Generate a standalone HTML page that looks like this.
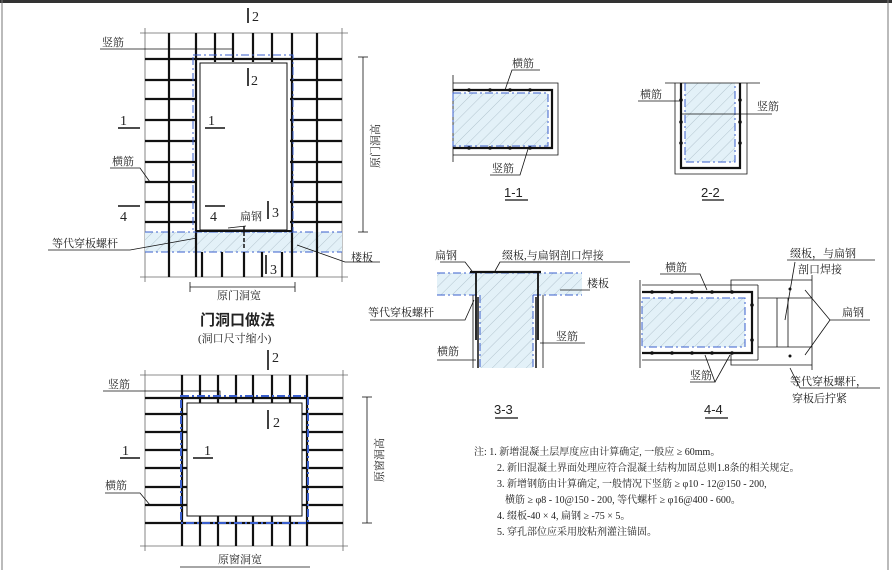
<!DOCTYPE html>
<html><head><meta charset="utf-8"><style>
html,body{margin:0;padding:0;background:#fff}
svg{display:block}
text{font-family:"Liberation Serif","Noto Serif CJK SC","Noto Sans CJK SC",serif;fill:#222}
.s{font-family:"Liberation Sans","Noto Sans CJK SC",sans-serif}
</style></head><body>
<svg width="892" height="570" viewBox="0 0 892 570" xmlns="http://www.w3.org/2000/svg">
<defs>
<pattern id="h" width="8" height="8" patternUnits="userSpaceOnUse" patternTransform="rotate(45)">
<rect width="8" height="8" fill="#e3f1f8"/><line x1="0" y1="0" x2="0" y2="8" stroke="#9fb3bd" stroke-width="0.7"/>
</pattern>
</defs>
<rect x="0" y="0" width="892" height="3" fill="#333"/>
<line x1="2" y1="0" x2="2" y2="570" stroke="#777"/>
<line x1="888" y1="0" x2="888" y2="570" stroke="#777"/>

<!-- DOOR -->
<g stroke="#111" fill="none">
<line x1="140" y1="33" x2="348" y2="33" stroke-width="0.8" stroke="#666"/>
<line x1="140" y1="277" x2="348" y2="277" stroke-width="0.8" stroke="#666"/>
<line x1="145" y1="28" x2="145" y2="282" stroke-width="0.8" stroke="#666"/>
<line x1="342" y1="28" x2="342" y2="282" stroke-width="0.8" stroke="#666"/>
<rect x="145" y="232" width="197" height="20" fill="url(#h)" stroke="none"/>
<line x1="145" y1="232" x2="342" y2="232" stroke="#3a5fcd" stroke-dasharray="8,3,2,3"/>
<line x1="145" y1="252" x2="342" y2="252" stroke="#3a5fcd" stroke-dasharray="8,3,2,3"/>
<g stroke-width="2.2">
<line x1="145" y1="59" x2="342" y2="59"/>
<line x1="145" y1="80" x2="197" y2="80"/><line x1="290" y1="80" x2="342" y2="80"/>
<line x1="145" y1="99" x2="197" y2="99"/><line x1="290" y1="99" x2="342" y2="99"/>
<line x1="145" y1="120" x2="197" y2="120"/><line x1="290" y1="120" x2="342" y2="120"/>
<line x1="145" y1="141" x2="197" y2="141"/><line x1="290" y1="141" x2="342" y2="141"/>
<line x1="145" y1="162" x2="197" y2="162"/><line x1="290" y1="162" x2="342" y2="162"/>
<line x1="145" y1="182" x2="197" y2="182"/><line x1="290" y1="182" x2="342" y2="182"/>
<line x1="145" y1="202" x2="197" y2="202"/><line x1="290" y1="202" x2="342" y2="202"/>
<line x1="145" y1="222" x2="197" y2="222"/><line x1="290" y1="222" x2="342" y2="222"/>
<line x1="169" y1="33" x2="169" y2="277"/><line x1="317" y1="33" x2="317" y2="277"/>
<line x1="196" y1="33" x2="196" y2="277"/><line x1="292" y1="33" x2="292" y2="277"/>
<line x1="215" y1="33" x2="215" y2="62"/><line x1="233" y1="33" x2="233" y2="62"/>
<line x1="253" y1="33" x2="253" y2="62"/><line x1="272" y1="33" x2="272" y2="62"/>
<line x1="202" y1="252" x2="202" y2="277"/><line x1="222" y1="252" x2="222" y2="277"/>
<line x1="244" y1="252" x2="244" y2="277"/><line x1="262" y1="252" x2="262" y2="277"/>
<line x1="282" y1="252" x2="282" y2="277"/>
</g>
<rect x="193" y="55" width="100" height="177" stroke="#3a5fcd" stroke-dasharray="8,3,2,3"/>
<rect x="200" y="63" width="87" height="167" fill="#fff" stroke-width="1"/>
<line x1="196" y1="231" x2="292" y2="231" stroke-width="2"/>
<line x1="244" y1="226" x2="244" y2="250" stroke-width="1.5" stroke-dasharray="4,2"/>
<line x1="363" y1="57" x2="363" y2="232" stroke-width="0.8"/>
<line x1="358" y1="57" x2="368" y2="57" stroke-width="0.8"/><line x1="358" y1="232" x2="368" y2="232" stroke-width="0.8"/>
<line x1="190" y1="287" x2="295" y2="287" stroke-width="0.8"/>
<line x1="190" y1="282" x2="190" y2="292" stroke-width="0.8"/><line x1="295" y1="282" x2="295" y2="292" stroke-width="0.8"/>
<g stroke-width="1.6">
<line x1="248" y1="8" x2="248" y2="23"/><line x1="248" y1="68" x2="248" y2="86"/>
<line x1="118" y1="128" x2="140" y2="128"/><line x1="205" y1="128" x2="225" y2="128"/>
<line x1="118" y1="206" x2="140" y2="206"/><line x1="205" y1="206" x2="225" y2="206"/>
<line x1="268" y1="201" x2="268" y2="219"/><line x1="266" y1="255" x2="266" y2="274"/>
</g>
<g stroke-width="0.8">
<polyline points="100,49 233,49 233,56"/>
<polyline points="110,168 140,168 150,182"/>
<polyline points="48,250 130,250 197,238"/>
<polyline points="297,245 345,262 380,262"/>
<line x1="228" y1="228" x2="246" y2="226"/>
</g>
</g>
<g class="s" font-size="14">
<text x="252" y="21">2</text><text x="251" y="85">2</text>
<text x="120" y="125">1</text><text x="208" y="125">1</text>
<text x="120" y="221">4</text><text x="210" y="221">4</text>
<text x="272" y="217">3</text><text x="270" y="274">3</text>
</g>
<g font-size="11">
<text x="102" y="46">竖筋</text>
<text x="112" y="165">横筋</text>
<text x="52" y="247">等代穿板螺杆</text>
<text x="351" y="261">楼板</text>
<text x="240" y="220">扁钢</text>
<text x="217" y="299">原门洞宽</text>
<text transform="translate(379,168) rotate(-90)">原门洞高</text>
</g>
<text x="200" y="325" font-size="15" font-weight="bold" class="s">门洞口做法</text>
<text x="198" y="342" font-size="11">(洞口尺寸缩小)</text>

<!-- WINDOW -->
<g stroke="#111" fill="none">
<line x1="140" y1="375" x2="348" y2="375" stroke-width="0.8" stroke="#666"/>
<line x1="140" y1="546" x2="348" y2="546" stroke-width="0.8" stroke="#666"/>
<line x1="145" y1="370" x2="145" y2="551" stroke-width="0.8" stroke="#666"/>
<line x1="343" y1="370" x2="343" y2="551" stroke-width="0.8" stroke="#666"/>
<g stroke-width="2.2">
<line x1="145" y1="398" x2="343" y2="398"/><line x1="145" y1="523" x2="343" y2="523"/>
<line x1="145" y1="414" x2="187" y2="414"/><line x1="302" y1="414" x2="343" y2="414"/>
<line x1="145" y1="432" x2="187" y2="432"/><line x1="302" y1="432" x2="343" y2="432"/>
<line x1="145" y1="450" x2="187" y2="450"/><line x1="302" y1="450" x2="343" y2="450"/>
<line x1="145" y1="468" x2="187" y2="468"/><line x1="302" y1="468" x2="343" y2="468"/>
<line x1="145" y1="487" x2="187" y2="487"/><line x1="302" y1="487" x2="343" y2="487"/>
<line x1="145" y1="505" x2="187" y2="505"/><line x1="302" y1="505" x2="343" y2="505"/>
<line x1="182" y1="375" x2="182" y2="546"/><line x1="307" y1="375" x2="307" y2="546"/>
<line x1="200" y1="375" x2="200" y2="403"/><line x1="218" y1="375" x2="218" y2="403"/>
<line x1="236" y1="375" x2="236" y2="403"/><line x1="253" y1="375" x2="253" y2="403"/>
<line x1="272" y1="375" x2="272" y2="403"/><line x1="290" y1="375" x2="290" y2="403"/>
<line x1="200" y1="516" x2="200" y2="546"/><line x1="218" y1="516" x2="218" y2="546"/>
<line x1="236" y1="516" x2="236" y2="546"/><line x1="253" y1="516" x2="253" y2="546"/>
<line x1="272" y1="516" x2="272" y2="546"/><line x1="290" y1="516" x2="290" y2="546"/>
</g>
<rect x="181" y="396" width="127" height="127" stroke="#3a5fcd" stroke-width="2" stroke-dasharray="8,3,2,3"/>
<rect x="187" y="403" width="115" height="113" fill="#fff" stroke-width="1"/>
<line x1="367" y1="397" x2="367" y2="523" stroke-width="0.8"/>
<line x1="362" y1="397" x2="372" y2="397" stroke-width="0.8"/><line x1="362" y1="523" x2="372" y2="523" stroke-width="0.8"/>
<line x1="180" y1="567" x2="310" y2="567" stroke-width="0.8"/>
<g stroke-width="1.6">
<line x1="268" y1="350" x2="268" y2="370"/><line x1="268" y1="410" x2="268" y2="429"/>
<line x1="120" y1="458" x2="140" y2="458"/><line x1="193" y1="458" x2="213" y2="458"/>
</g>
<g stroke-width="0.8">
<polyline points="103,391 220,391 220,395"/>
<polyline points="105,493 140,493 150,505"/>
</g>
</g>
<g class="s" font-size="14">
<text x="272" y="362">2</text><text x="273" y="427">2</text>
<text x="122" y="455">1</text><text x="204" y="455">1</text>
</g>
<g font-size="11">
<text x="108" y="388">竖筋</text>
<text x="105" y="489">横筋</text>
<text x="218" y="563">原窗洞宽</text>
<text transform="translate(383,482) rotate(-90)">原窗洞高</text>
</g>

<!-- 1-1 -->
<g stroke="#111" fill="none">
<rect x="453" y="93" width="95" height="53" fill="url(#h)" stroke="none"/>
<line x1="453" y1="75" x2="453" y2="162" stroke-width="0.8"/>
<polyline points="453,83 558,83 558,155 453,155" stroke-width="0.8"/>
<polyline points="453,90 552,90 552,148 453,148" stroke-width="2.2"/>
<rect x="453" y="93" width="95" height="53" stroke="#3a5fcd" stroke-dasharray="8,3,2,3"/>
<polyline points="505,90 512,70 540,70" stroke-width="0.8"/>
<polyline points="528,149 520,175 490,175" stroke-width="0.8"/>
<line x1="505" y1="200" x2="528" y2="200" stroke-width="1.3"/>
</g>
<g fill="#111"><circle cx="469" cy="90" r="1.8"/><circle cx="490" cy="90" r="1.8"/><circle cx="510" cy="90" r="1.8"/><circle cx="530" cy="90" r="1.8"/><circle cx="469" cy="148" r="1.8"/><circle cx="490" cy="148" r="1.8"/><circle cx="510" cy="148" r="1.8"/><circle cx="530" cy="148" r="1.8"/></g>
<text x="512" y="67" font-size="11">横筋</text>
<text x="492" y="172" font-size="11">竖筋</text>
<text x="504" y="197" font-size="13" class="s">1-1</text>

<!-- 2-2 -->
<g stroke="#111" fill="none">
<rect x="685" y="83" width="50" height="79" fill="url(#h)" stroke="none"/>
<line x1="665" y1="83" x2="760" y2="83" stroke-width="0.8"/>
<polyline points="675,83 675,174 747,174 747,83" stroke-width="0.8"/>
<polyline points="681,83 681,168 740,168 740,83" stroke-width="2.2"/>
<polyline points="685,83 685,162 735,162 735,83" stroke="#3a5fcd" stroke-dasharray="8,3,2,3"/>
<line x1="681" y1="114" x2="772" y2="114" stroke-width="0.8"/>
<polyline points="638,101 681,101" stroke-width="0.8"/>
<line x1="702" y1="200" x2="724" y2="200" stroke-width="1.3"/>
</g>
<g fill="#111"><circle cx="681" cy="100" r="1.8"/><circle cx="681" cy="122" r="1.8"/><circle cx="681" cy="143" r="1.8"/><circle cx="740" cy="100" r="1.8"/><circle cx="740" cy="122" r="1.8"/><circle cx="740" cy="143" r="1.8"/></g>
<text x="640" y="98" font-size="11">横筋</text>
<text x="757" y="110" font-size="11">竖筋</text>
<text x="701" y="197" font-size="13" class="s">2-2</text>

<!-- 3-3 -->
<g stroke="#111" fill="none">
<rect x="437" y="273" width="145" height="22" fill="url(#h)" stroke="none"/>
<rect x="480" y="295" width="53" height="73" fill="url(#h)" stroke="none"/>
<line x1="437" y1="273" x2="582" y2="273" stroke="#3a5fcd" stroke-dasharray="8,3,2,3"/>
<line x1="437" y1="295" x2="480" y2="295" stroke="#3a5fcd" stroke-dasharray="8,3,2,3"/>
<line x1="533" y1="295" x2="582" y2="295" stroke="#3a5fcd" stroke-dasharray="8,3,2,3"/>
<line x1="480" y1="295" x2="480" y2="368" stroke="#3a5fcd" stroke-dasharray="8,3,2,3"/>
<line x1="533" y1="295" x2="533" y2="368" stroke="#3a5fcd" stroke-dasharray="8,3,2,3"/>
<line x1="473" y1="295" x2="473" y2="368" stroke-width="0.8"/>
<line x1="543" y1="295" x2="543" y2="368" stroke-width="0.8"/>
<line x1="470" y1="272" x2="541" y2="272" stroke-width="2.2"/>
<line x1="476" y1="272" x2="476" y2="340" stroke-width="1.8"/>
<line x1="538" y1="272" x2="538" y2="340" stroke-width="1.8"/>
<line x1="478" y1="297" x2="478" y2="368" stroke-width="1.5"/>
<line x1="536" y1="297" x2="536" y2="368" stroke-width="1.5"/>
<polyline points="440,262 465,262 472,271" stroke-width="0.8"/>
<polyline points="630,262 500,262 495,271" stroke-width="0.8"/>
<polyline points="560,290 590,290" stroke-width="0.8"/>
<polyline points="370,320 465,320 474,300" stroke-width="0.8"/>
<polyline points="437,360 476,360" stroke-width="0.8"/>
<polyline points="540,343 585,343" stroke-width="0.8"/>
<line x1="495" y1="418" x2="518" y2="418" stroke-width="1.3"/>
</g>
<text x="435" y="259" font-size="11">扁钢</text>
<text x="502" y="259" font-size="11">缀板,与扁钢剖口焊接</text>
<text x="587" y="287" font-size="11">楼板</text>
<text x="368" y="316" font-size="11">等代穿板螺杆</text>
<text x="437" y="355" font-size="11">横筋</text>
<text x="556" y="340" font-size="11">竖筋</text>
<text x="494" y="414" font-size="13" class="s">3-3</text>

<!-- 4-4 -->
<g stroke="#111" fill="none">
<rect x="642" y="298" width="103" height="49" fill="url(#h)" stroke="none"/>
<line x1="640" y1="280" x2="640" y2="368" stroke-width="0.8"/>
<polyline points="642,285 758,285" stroke-width="0.8"/>
<polyline points="642,360 758,360" stroke-width="0.8"/>
<polyline points="642,292 752,292 752,353 642,353" stroke-width="2.2"/>
<rect x="642" y="298" width="103" height="49" stroke="#3a5fcd" stroke-dasharray="8,3,2,3"/>
<polyline points="731,292 731,280 812,280" stroke-width="0.8"/>
<polyline points="731,353 731,365 812,365" stroke-width="0.8"/>
<polyline points="758,285 758,360" stroke-width="0.8"/>
<line x1="758" y1="298" x2="812" y2="298" stroke-width="0.8"/>
<line x1="758" y1="347" x2="812" y2="347" stroke-width="0.8"/>
<line x1="777" y1="298" x2="777" y2="347" stroke-width="0.8"/>
<line x1="788" y1="298" x2="788" y2="347" stroke-width="0.8"/>
<line x1="812" y1="275" x2="812" y2="370" stroke-width="0.8"/>
<polyline points="805,290 830,320 805,355" stroke-width="0.8"/>
<line x1="830" y1="320" x2="870" y2="320" stroke-width="0.8"/>
<polyline points="660,274 700,274 707,290" stroke-width="0.8"/>
<polyline points="690,382 715,382 705,355" stroke-width="0.8"/>
<line x1="715" y1="382" x2="730" y2="355" stroke-width="0.8"/>
<polyline points="787,260 875,260" stroke-width="0.8"/>
<line x1="795" y1="262" x2="785" y2="320" stroke-width="0.8"/>
<polyline points="790,368 800,388 880,388" stroke-width="0.8"/>
<line x1="705" y1="418" x2="728" y2="418" stroke-width="1.3"/>
</g>
<g fill="#111"><circle cx="652" cy="292" r="1.8"/><circle cx="672" cy="292" r="1.8"/><circle cx="692" cy="292" r="1.8"/><circle cx="712" cy="292" r="1.8"/><circle cx="732" cy="292" r="1.8"/><circle cx="652" cy="353" r="1.8"/><circle cx="672" cy="353" r="1.8"/><circle cx="692" cy="353" r="1.8"/><circle cx="712" cy="353" r="1.8"/><circle cx="732" cy="353" r="1.8"/><circle cx="752" cy="305" r="1.8"/><circle cx="752" cy="340" r="1.8"/><circle cx="790" cy="289" r="1.5"/><circle cx="790" cy="356" r="1.5"/></g>
<text x="665" y="271" font-size="11">横筋</text>
<text x="690" y="379" font-size="11">竖筋</text>
<text x="790" y="257" font-size="11">缀板，与扁钢</text>
<text x="798" y="273" font-size="11">剖口焊接</text>
<text x="842" y="316" font-size="11">扁钢</text>
<text x="790" y="385" font-size="11">等代穿板螺杆，</text>
<text x="792" y="402" font-size="11">穿板后拧紧</text>
<text x="704" y="414" font-size="13" class="s">4-4</text>

<!-- NOTES -->
<g font-size="10">
<text x="474" y="455">注: 1. 新增混凝土层厚度应由计算确定, 一般应 ≥ 60mm。</text>
<text x="497" y="471">2. 新旧混凝土界面处理应符合混凝土结构加固总则1.8条的相关规定。</text>
<text x="497" y="487">3. 新增钢筋由计算确定, 一般情况下竖筋 ≥ φ10 - 12@150 - 200,</text>
<text x="505" y="503">横筋 ≥ φ8 - 10@150 - 200, 等代螺杆 ≥ φ16@400 - 600。</text>
<text x="497" y="519">4. 缀板-40 × 4, 扁钢 ≥ -75 × 5。</text>
<text x="497" y="535">5. 穿孔部位应采用胶粘剂灌注锚固。</text>
</g>
</svg>
</body></html>
